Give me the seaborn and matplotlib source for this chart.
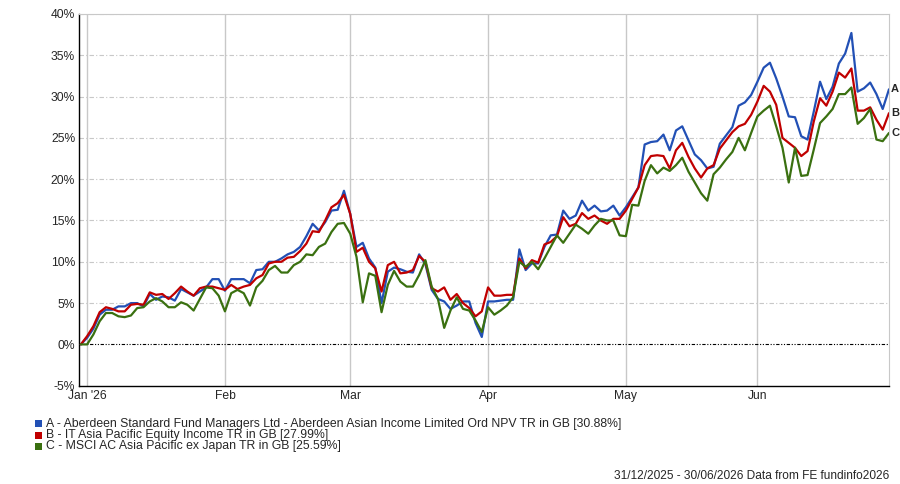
import numpy as np
import pandas as pd
import seaborn as sns
import matplotlib.pyplot as plt
from matplotlib.patches import Rectangle

# cumulative total return (%), one value per trading day 31/12/2025 .. 30/06/2026
fund_a = [0, 0.8, 1.9, 3.6, 4.2, 4.2, 4.6, 4.6, 5.0, 5.0,
          4.6, 6.1, 5.4, 5.8, 5.7, 5.3, 6.7, 6.3, 5.9, 6.4,
          6.9, 7.9, 7.9, 6.5, 7.9, 7.9, 7.9, 7.4, 9.0, 9.1,
          10.0, 10.0, 10.4, 10.9, 11.2, 11.8, 13.1, 14.6, 13.8, 14.8,
          16.2, 16.3, 18.6, 15.8, 11.8, 12.3, 10.4, 9.3, 5.0, 8.8,
          9.3, 9.1, 8.8, 8.7, 10.9, 9.7, 6.6, 5.5, 5.2, 4.3,
          4.7, 5.2, 5.2, 2.6, 0.9, 5.2, 5.2, 5.3, 5.4, 5.4,
          11.5, 9.0, 9.8, 9.8, 11.8, 13.2, 13.3, 16.2, 15.2, 15.6,
          17.4, 16.2, 16.8, 16.1, 16.2, 16.8, 15.6, 16.6, 17.8, 19.0,
          24.2, 24.5, 24.6, 25.4, 23.5, 25.9, 26.4, 24.7, 23.0, 22.3,
          21.3, 21.5, 24.3, 25.3, 26.3, 28.9, 29.3, 30.2, 31.8, 33.5,
          34.1, 32.2, 30.0, 27.6, 27.5, 25.2, 24.8, 28.2, 31.8, 29.7,
          31.2, 34.0, 35.2, 37.7, 30.6, 31.0, 31.7, 30.3, 28.5, 30.88]
fund_b = [0, 1.0, 2.2, 3.9, 4.5, 4.3, 4.0, 4.0, 4.8, 4.9,
          4.8, 6.3, 6.0, 6.1, 5.5, 6.2, 7.0, 6.4, 5.9, 6.8,
          7.0, 7.0, 6.8, 6.6, 7.2, 6.7, 7.0, 7.2, 8.0, 8.4,
          9.8, 10.0, 10.0, 10.5, 10.6, 11.3, 12.2, 13.7, 13.6, 15.0,
          16.6, 17.1, 18.1, 15.8, 11.2, 11.7, 10.0, 9.2, 6.4, 9.6,
          10.0, 8.6, 8.7, 9.0, 10.7, 10.0, 6.8, 6.4, 6.9, 5.4,
          6.1, 5.0, 4.4, 3.4, 4.0, 6.9, 5.9, 5.9, 6.0, 6.0,
          10.4, 9.2, 10.2, 9.9, 12.1, 12.4, 13.1, 15.4, 14.3, 14.6,
          15.9, 15.2, 15.6, 15.0, 14.6, 15.2, 15.2, 16.2, 17.6, 19.0,
          21.7, 22.8, 22.9, 22.8, 21.3, 23.5, 24.4, 22.7, 21.3, 20.2,
          21.3, 21.7, 23.7, 24.7, 25.7, 26.4, 26.7, 27.8, 29.4, 31.3,
          30.6, 29.0, 25.0, 24.4, 23.8, 22.8, 23.4, 27.0, 29.8, 28.9,
          30.6, 32.9, 32.3, 33.4, 28.3, 28.3, 28.7, 27.2, 26.0, 27.99]
fund_c = [0, 0, 1.2, 2.8, 3.8, 3.8, 3.4, 3.3, 3.5, 4.4,
          4.5, 5.2, 5.6, 5.2, 4.5, 4.5, 5.1, 4.8, 4.1, 5.5,
          6.9, 6.8, 5.9, 4.0, 6.2, 6.6, 6.2, 4.7, 6.9, 7.7,
          9.0, 9.5, 8.7, 8.7, 9.6, 10.0, 10.9, 10.8, 11.8, 12.2,
          13.6, 14.6, 14.7, 13.4, 10.6, 5.1, 8.6, 8.3, 3.9, 7.2,
          8.9, 7.6, 7.0, 7.0, 8.4, 10.2, 7.0, 5.5, 2.0, 4.1,
          5.7, 4.3, 4.1, 2.9, 1.5, 4.5, 3.6, 4.1, 4.7, 5.7,
          10.0, 9.4, 10.0, 9.1, 10.4, 11.8, 13.2, 12.3, 13.4, 14.5,
          14.0, 13.4, 14.4, 15.2, 15.0, 15.0, 13.2, 13.1, 16.9, 16.8,
          19.8, 21.7, 20.7, 21.4, 21.0, 21.7, 22.6, 20.9, 19.6, 18.3,
          17.4, 20.6, 21.4, 22.4, 23.3, 25.0, 23.5, 25.6, 27.6, 28.3,
          28.9, 26.4, 23.8, 19.6, 23.8, 20.4, 20.5, 23.6, 26.8, 27.6,
          28.5, 30.3, 30.3, 31.1, 26.7, 27.4, 28.5, 24.8, 24.6, 25.59]

series_names = [
    "A - Aberdeen Standard Fund Managers Ltd - Aberdeen Asian Income Limited Ord NPV TR in GB [30.88%]",
    "B - IT Asia Pacific Equity Income TR in GB [27.99%]",
    "C - MSCI AC Asia Pacific ex Japan TR in GB [25.59%]",
]
series_tags = ["A", "B", "C"]
colors = ["#2250b5", "#c00000", "#3a7010"]

days = pd.bdate_range("2025-12-31", "2026-06-30")
month_ticks = ["2026-01-01", "2026-02-02", "2026-03-02", "2026-04-01", "2026-05-01", "2026-06-01"]
month_labels = ["Jan '26", "Feb", "Mar", "Apr", "May", "Jun"]

rows = []
for tag, vals in zip(series_tags, [fund_a, fund_b, fund_c]):
    for i, v in enumerate(vals):
        rows.append({"step": i, "ret": v, "series": tag})
df = pd.DataFrame(rows)

sns.set_style("white")
plt.rcParams["font.family"] = ["Liberation Sans", "DejaVu Sans"]

W, H = 900, 484
fig = plt.figure(figsize=(W / 100, H / 100), dpi=100)
ax = fig.add_axes([0.0881, 0.2031, 0.9, 0.768])

sns.lineplot(data=df, x="step", y="ret", hue="series", palette=colors,
             linewidth=1.6, legend=False, ax=ax, zorder=3)

ax.set_xlim(-0.25, len(days) - 0.95)
ax.set_ylim(-5, 40)
ax.set_yticks(range(-5, 41, 5))
ax.set_yticklabels([f"{t}%" for t in range(-5, 41, 5)], fontsize=8.7)
tick_pos = [days.get_loc(pd.Timestamp(d)) for d in month_ticks]
ax.set_xticks(tick_pos)
ax.set_xticklabels(month_labels, fontsize=8.7)
ax.tick_params(length=0, pad=3)
ax.set_xlabel("")
ax.set_ylabel("")

for t in range(5, 41, 5):
    ax.axhline(t, color="#c8c8c8", lw=0.8, ls=(0, (4, 2, 1, 2)), zorder=1)
ax.axhline(0, color="black", lw=0.8, ls=(0, (3, 1.5, 1, 1.5, 1, 1.5)), zorder=2)
for p in tick_pos:
    ax.axvline(p, color="#c8c8c8", lw=1.0, zorder=1)

for side in ["top", "right"]:
    ax.spines[side].set_color("#c8c8c8")
for side in ["left", "bottom"]:
    ax.spines[side].set_color("black")
    ax.spines[side].set_linewidth(1.0)

for tag, vals in zip(series_tags, [fund_a, fund_b, fund_c]):
    ax.annotate(tag, xy=(len(vals) - 1, vals[-1]), xytext=(1.5, 0),
                textcoords="offset points", va="center", ha="left",
                fontsize=8, fontweight="bold", annotation_clip=False)

# legend rows below the plot
row_y = [423.5, 435, 446.5]
for name, c, y in zip(series_names, colors, row_y):
    fig.add_artist(Rectangle((35 / W, 1 - (y + 3.5) / H), 7 / W, 7 / H,
                             transform=fig.transFigure, color=c, lw=0))
    fig.text(46 / W, 1 - y / H, name, ha="left", va="center", fontsize=8.8)

fig.text(889 / W, 1 - 476 / H, "31/12/2025 - 30/06/2026 Data from FE fundinfo2026",
         ha="right", va="center", fontsize=8.55)

fig.savefig("out.png", dpi=100)
